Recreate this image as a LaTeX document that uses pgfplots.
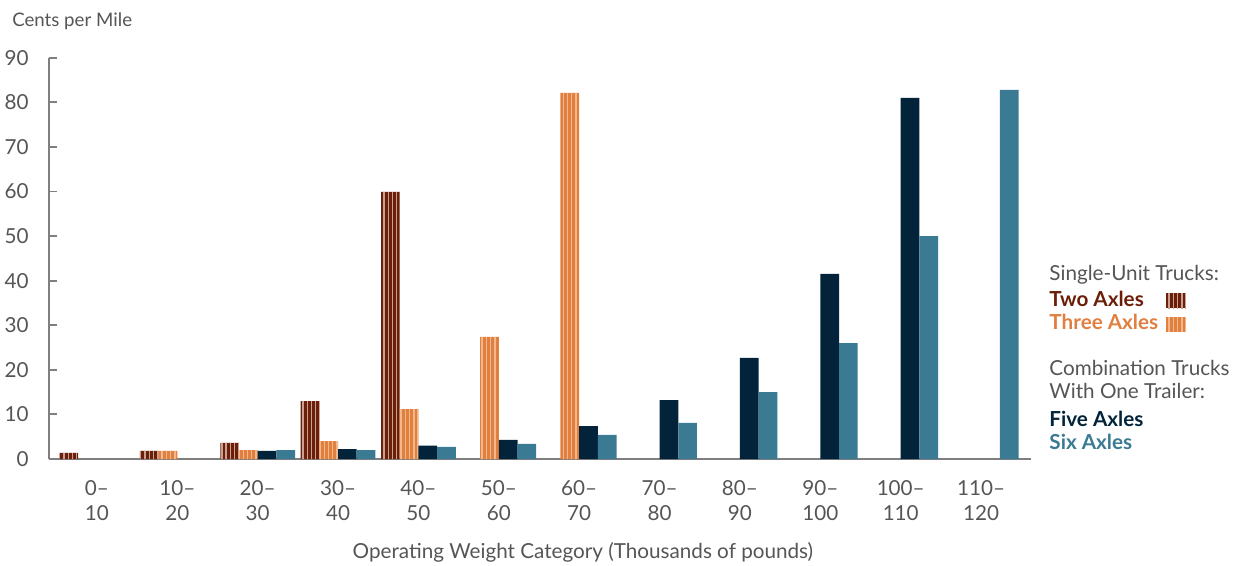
\documentclass[border=0pt]{standalone}
\usepackage{fontspec}
\setmainfont{Lato}
\usepackage{pgfplots}
\pgfplotsset{compat=1.18}
\usetikzlibrary{patterns.meta}
\definecolor{twoc}{HTML}{6B1F08}
\definecolor{twol}{HTML}{C9A094}
\definecolor{threec}{HTML}{E07F3F}
\definecolor{threel}{HTML}{F3B88A}
\definecolor{fivec}{HTML}{03233A}
\definecolor{sixc}{HTML}{3A7B93}
\definecolor{axisgray}{HTML}{7F7F7F}
\definecolor{textgray}{HTML}{555555}
\newcommand{\lab}{\fontsize{15.5}{18.75}\selectfont}
\begin{document}
\begin{tikzpicture}
\begin{axis}[
  scale only axis, width=736.7pt, height=301pt,
  xmin=-0.6, xmax=11.62, ymin=0, ymax=90,
  axis lines=left,
  axis line style={-, draw=axisgray, line width=1.4pt},
  ybar=0pt, bar width=0.2326,
  xtick={0,...,11},
  xticklabels={{0--\\10},{10--\\20},{20--\\30},{30--\\40},{40--\\50},{50--\\60},{60--\\70},{70--\\80},{80--\\90},{90--\\100},{100--\\110},{110--\\120}},
  xtick style={draw=none},
  ytick={0,10,...,90},
  ytick style={draw=axisgray, line width=1.4pt},
  tick align=inside, major tick length=6pt,
  xticklabel style={font=\lab, text=textgray, align=center, inner sep=0pt, anchor=north, yshift=-15.75pt},
  yticklabel style={font=\lab, text=textgray, inner sep=0pt, anchor=east, xshift=-14.8pt},
  /pgf/number format/assume math mode=true,
  clip=false,
]
\addplot[fill=twoc, draw=none, postaction={pattern={Lines[angle=90,distance=3.2pt,line width=1pt]}, pattern color=twol}]
  coordinates {(0,1.35) (1,1.8) (2,3.6) (3,13.0) (4,59.9)};
\addplot[fill=threec, draw=none, postaction={pattern={Lines[angle=90,distance=3.2pt,line width=1pt]}, pattern color=threel}]
  coordinates {(1,1.8) (2,2.0) (3,4.0) (4,11.2) (5,27.4) (6,82.1)};
\addplot[fill=fivec, draw=none]
  coordinates {(2,1.8) (3,2.2) (4,3.0) (5,4.3) (6,7.4) (7,13.2) (8,22.7) (9,41.5) (10,81.0)};
\addplot[fill=sixc, draw=none]
  coordinates {(2,2.0) (3,2.0) (4,2.7) (5,3.4) (6,5.4) (7,8.1) (8,15.0) (9,26.0) (10,50.0) (11,82.8)};
\coordinate (O) at (rel axis cs:0,0);
\coordinate (R) at (rel axis cs:1,0);
\coordinate (T) at (rel axis cs:0,1);
\end{axis}
% axis titles
\node[anchor=base west, inner sep=0pt, text=textgray, font=\fontsize{14}{16}\selectfont] at ([shift={(-27.5pt,23.25pt)}]T) {Cents per Mile};
\node[anchor=base, inner sep=0pt, text=textgray, font=\lab] at ([shift={(400.7pt,-74.25pt)}]O) {Operating Weight Category (Thousands of pounds)};
% legend
\begin{scope}[every node/.style={anchor=base west, inner sep=0pt, font=\lab}]
\node[text=textgray] at ([shift={(13.7pt,134.25pt)}]R) {Single-Unit Trucks:};
\node[text=twoc, font=\lab\bfseries] at ([shift={(13.7pt,114.75pt)}]R) {Two Axles};
\node[text=threec, font=\lab\bfseries] at ([shift={(13.7pt,97.5pt)}]R) {Three Axles};
\node[text=textgray] at ([shift={(13.7pt,63pt)}]R) {Combination Trucks};
\node[text=textgray] at ([shift={(13.7pt,45.75pt)}]R) {With One Trailer:};
\node[text=fivec, font=\lab\bfseries] at ([shift={(13.7pt,24.75pt)}]R) {Five Axles};
\node[text=sixc, font=\lab\bfseries] at ([shift={(13.7pt,7.5pt)}]R) {Six Axles};
\end{scope}
\path[fill=twoc, postaction={pattern={Lines[angle=90,distance=3.2pt,line width=1pt]}, pattern color=twol}]
  ([shift={(101.25pt,113.25pt)}]R) rectangle ([shift={(116.25pt,124.5pt)}]R);
\path[fill=threec, postaction={pattern={Lines[angle=90,distance=3.2pt,line width=1pt]}, pattern color=threel}]
  ([shift={(101.25pt,95.25pt)}]R) rectangle ([shift={(116.25pt,106.5pt)}]R);
\pgfresetboundingbox
\path[use as bounding box] ([shift={(-36.5pt,-79.5pt)}]O) rectangle ([shift={(896.5pt,344.25pt)}]O);
\end{tikzpicture}
\end{document}
